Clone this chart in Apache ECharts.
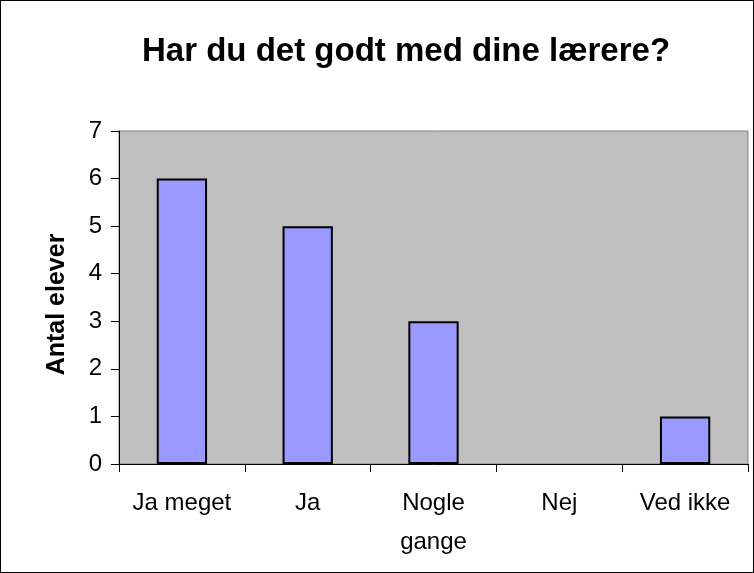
<!DOCTYPE html>
<html>
<head>
<meta charset="utf-8">
<script src="https://cdn.jsdelivr.net/npm/echarts@6/dist/echarts.min.js"></script>
<style>
	html, body { margin: 0; padding: 0; background: #fff; }
	#chart { width: 752px; height: 571px; border: 1px solid #000; }
</style>
</head>
<body>
<div id="chart"></div>
<script>
	var categories = ['Ja meget', 'Ja', 'Nogle\ngange', 'Nej', 'Ved ikke'];
	var values = [6, 5, 3, 0, 1];
	var titleText = 'Har du det godt med dine lærere?';
	var yName = 'Antal elever';

	var chart = echarts.init(document.getElementById('chart'));
	var option = {
		animation: false,
		title: {
			text: titleText,
			left: 136,
			top: 29,
			textStyle: {
				fontFamily: 'Liberation Sans, Arial',
				fontSize: 33,
				fontWeight: 'bold',
				color: '#000'
			}
		},
		grid: {
			left: 118,
			top: 130,
			width: 629,
			height: 333,
			show: true,
			backgroundColor: '#c0c0c0',
			borderColor: '#808080',
			borderWidth: 1
		},
		xAxis: {
			type: 'category',
			data: categories,
			axisLine: { lineStyle: { color: '#000', width: 1 } },
			axisTick: { show: true, length: 8, lineStyle: { color: '#000' } },
			axisLabel: {
				color: '#000',
				fontFamily: 'Liberation Sans, Arial',
				fontSize: 24,
				lineHeight: 39,
				margin: 20,
				interval: 0
			}
		},
		yAxis: {
			type: 'value',
			min: 0,
			max: 7,
			interval: 1,
			name: yName,
			nameLocation: 'middle',
			nameGap: 49,
			nameTextStyle: {
				fontFamily: 'Liberation Sans, Arial',
				fontSize: 25,
				fontWeight: 'bold',
				color: '#000',
				padding: [0, 14, 0, 0]
			},
			axisLine: { show: true, lineStyle: { color: '#000', width: 1 } },
			axisTick: { show: true, length: 8, lineStyle: { color: '#000' } },
			axisLabel: {
				color: '#000',
				fontFamily: 'Liberation Sans, Arial',
				fontSize: 24,
				margin: 17
			},
			splitLine: { show: false }
		},
		series: [{
			type: 'bar',
			data: values.map(function (v) {
				return v === 0 ? { value: v, itemStyle: { borderWidth: 0 } } : v;
			}),
			barWidth: '40%',
			itemStyle: {
				color: '#9999ff',
				borderColor: '#000',
				borderWidth: 2
			}
		}]
	};
	chart.setOption(option);
</script>
</body>
</html>
